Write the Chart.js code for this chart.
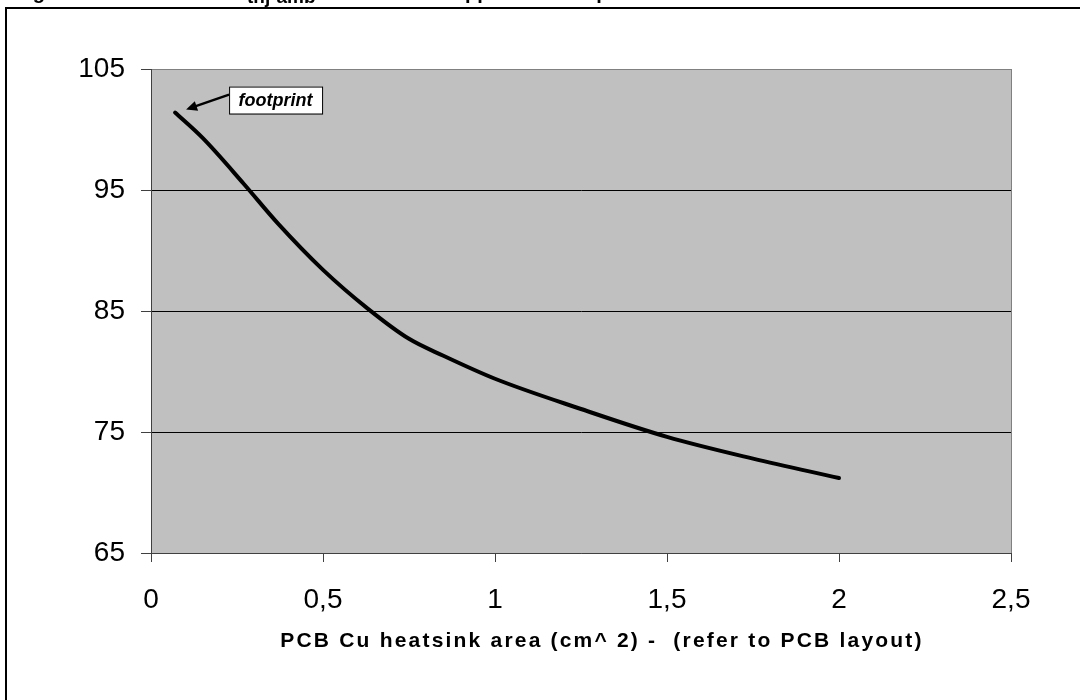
<!DOCTYPE html>
<html>
<head>
<meta charset="utf-8">
<script src="https://cdn.jsdelivr.net/npm/chart.js@4.4.1/dist/chart.umd.min.js"></script>
<style>
body { margin: 0; background: #fff; }
#wrap { position: relative; width: 1080px; height: 700px; }
</style>
</head>
<body>
<div id="wrap"><canvas id="myChart" width="1080" height="700"></canvas></div>
<script>
// Cu area (cm^2) vs Rthj-amb
var areaCm2 = [0.07, 0.15, 0.27, 0.37, 0.5, 0.63, 0.75, 0.85, 1.0, 1.25, 1.5, 1.75, 2.0];
var rthjAmb = [101.4, 99.3, 95.5, 92.2, 88.4, 85.2, 82.7, 81.3, 79.4, 76.9, 74.6, 72.8, 71.2];

var xMin = 0, xMax = 2.5, xStep = 0.5;
var yMin = 65, yMax = 105, yStep = 10;

var xTitle = 'PCB Cu heatsink area (cm^ 2) -  (refer to PCB layout)';
var noteText = 'footprint';
// page title, clipped at the top edge of the picture
var titleMain = 'Figure 24. Maximum R';
var titleSub = 'thj-amb';
var titleRest = ' vs. PCB copper area in open box';

var fontFam = '"Liberation Sans", Arial, sans-serif';
Chart.defaults.font.family = fontFam;
Chart.defaults.color = '#000';

var pageDeco = {
    id: 'pageDeco',
    beforeDraw: function(chart) {
        var ctx = chart.ctx;
        var a = chart.chartArea;
        ctx.save();
        ctx.fillStyle = '#fff';
        ctx.fillRect(0, 0, chart.width, chart.height);

        // clipped title bits
        ctx.fillStyle = '#000';
        ctx.textBaseline = 'alphabetic';
        ctx.font = 'bold 20px ' + fontFam;
        ctx.fillText(titleMain, 15, -1);
        ctx.fillText(titleRest, 355, -1);
        ctx.font = 'bold 19px ' + fontFam;
        ctx.fillText(titleSub, 247, 3);

        // outer frame
        ctx.strokeStyle = '#000';
        ctx.lineWidth = 2;
        ctx.beginPath();
        ctx.moveTo(6, 702);
        ctx.lineTo(6, 8);
        ctx.lineTo(1082, 8);
        ctx.stroke();

        // plot area
        ctx.fillStyle = '#c0c0c0';
        ctx.fillRect(a.left, a.top, a.right - a.left, a.bottom - a.top);
        ctx.strokeStyle = '#808080';
        ctx.lineWidth = 1;
        ctx.strokeRect(a.left + 0.5, a.top + 0.5, a.right - a.left, a.bottom - a.top);
        ctx.restore();
    },
    afterDraw: function(chart) {
        var ctx = chart.ctx;
        var a = chart.chartArea;
        ctx.save();
        ctx.fillStyle = '#000';
        ctx.font = 'bold 21px ' + fontFam;
        ctx.letterSpacing = '2.2px';
        ctx.textAlign = 'center';
        ctx.textBaseline = 'middle';
        ctx.fillText(xTitle, (a.left + a.right) / 2 + 21, 641);
        ctx.restore();
    }
};

var footNote = {
    id: 'footNote',
    afterDatasetsDraw: function(chart) {
        var pt = chart.getDatasetMeta(0).data[0];
        var ctx = chart.ctx;
        var bx = pt.x + 54, by = pt.y - 26, bw = 93, bh = 27;
        ctx.save();
        ctx.fillStyle = '#fff';
        ctx.fillRect(bx, by, bw, bh);
        ctx.strokeStyle = '#000';
        ctx.lineWidth = 1;
        ctx.strokeRect(bx + 0.5, by + 0.5, bw, bh);
        ctx.fillStyle = '#000';
        ctx.font = 'italic bold 18px ' + fontFam;
        ctx.textAlign = 'center';
        ctx.textBaseline = 'middle';
        ctx.fillText(noteText, bx + bw / 2, by + bh / 2 + 1);

        // arrow
        var x1 = bx, y1 = by + 8, x2 = pt.x + 11, y2 = pt.y - 3;
        var ang = Math.atan2(y2 - y1, x2 - x1);
        ctx.lineWidth = 2.5;
        ctx.beginPath();
        ctx.moveTo(x1, y1);
        ctx.lineTo(x2 - 8 * Math.cos(ang), y2 - 8 * Math.sin(ang));
        ctx.stroke();
        ctx.beginPath();
        ctx.moveTo(x2, y2);
        ctx.lineTo(x2 - 11 * Math.cos(ang) + 5 * Math.sin(ang), y2 - 11 * Math.sin(ang) - 5 * Math.cos(ang));
        ctx.lineTo(x2 - 11 * Math.cos(ang) - 5 * Math.sin(ang), y2 - 11 * Math.sin(ang) + 5 * Math.cos(ang));
        ctx.closePath();
        ctx.fill();
        ctx.restore();
    }
};

var ctx = document.getElementById('myChart').getContext('2d');
var chart = new Chart(ctx, {
    type: 'scatter',
    data: {
        datasets: [{
            label: 'Rthj-amb',
            data: areaCm2.map(function(x, i) { return {x: x, y: rthjAmb[i]}; }),
            showLine: true,
            borderColor: '#000',
            borderWidth: 4,
            pointRadius: 0,
            cubicInterpolationMode: 'monotone',
            borderCapStyle: 'round',
            borderJoinStyle: 'round'
        }]
    },
    options: {
        responsive: false,
        animation: false,
        layout: { padding: { top: 69, right: 69, left: 0, bottom: 0 } },
        plugins: {
            legend: { display: false },
            tooltip: { enabled: false }
        },
        scales: {
            x: {
                type: 'linear',
                min: xMin,
                max: xMax,
                afterFit: function(s) { s.height = 147; },
                border: { color: '#404040', width: 1 },
                grid: {
                    drawOnChartArea: false,
                    tickLength: 9,
                    tickColor: '#404040'
                },
                ticks: {
                    stepSize: xStep,
                    padding: 21,
                    maxRotation: 0,
                    font: { size: 28 },
                    callback: function(v) { return String(v).replace('.', ','); }
                }
            },
            y: {
                min: yMin,
                max: yMax,
                afterFit: function(s) { s.width = 151; },
                border: { color: '#404040', width: 1 },
                grid: {
                    color: function(c) {
                        return (c.tick && (c.tick.value === yMin || c.tick.value === yMax)) ? '#808080' : '#000';
                    },
                    tickLength: 10,
                    tickColor: '#404040'
                },
                ticks: {
                    stepSize: yStep,
                    padding: 16,
                    font: { size: 28 }
                }
            }
        }
    },
    plugins: [pageDeco, footNote]
});
</script>
</body>
</html>
